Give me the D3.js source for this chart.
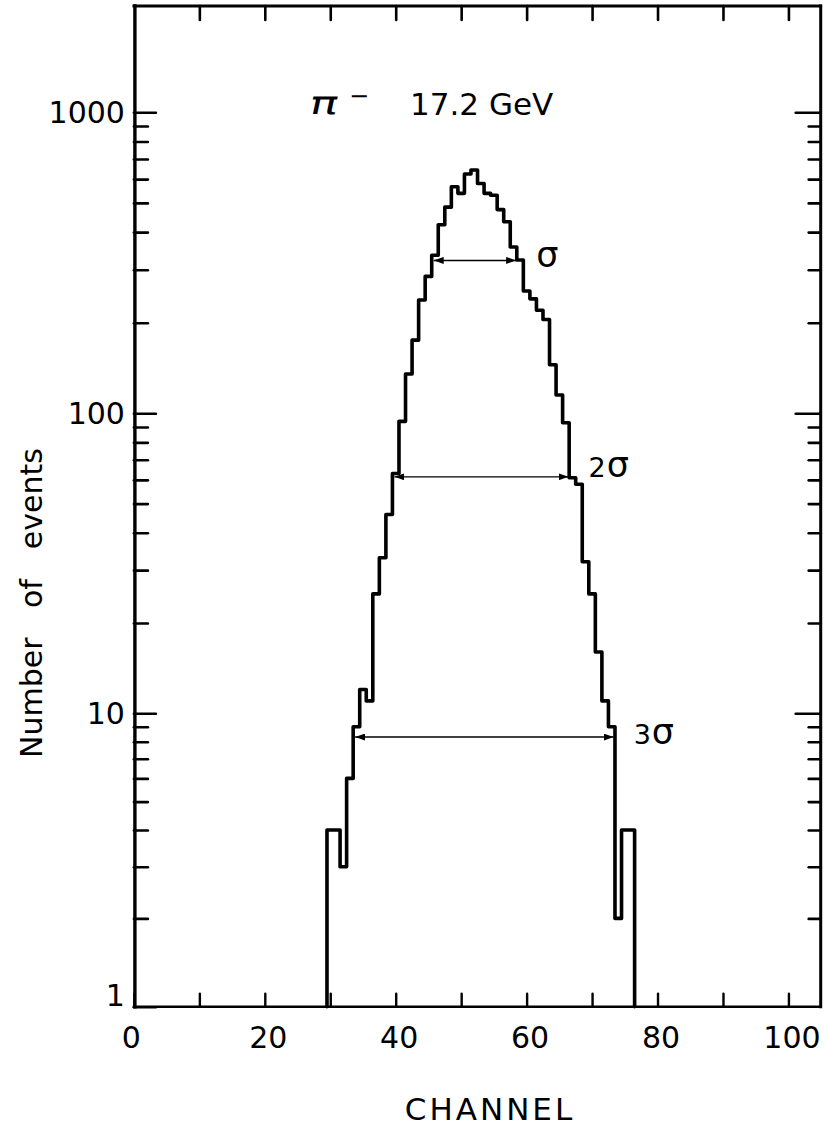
<!DOCTYPE html>
<html>
<head>
<meta charset="utf-8">
<script src="https://cdn.jsdelivr.net/npm/d3@7"></script>
<style>
  html, body { margin: 0; padding: 0; background: #fff; }
  svg { display: block; }
  text { font-family: "DejaVu Sans", sans-serif; fill: #000; }
</style>
</head>
<body>
<svg id="chart" width="825" height="1129"></svg>
<script>
// Pulse-height spectrum, one bin per channel (bin centred on the channel number)
const channels = [30, 31, 32, 33, 34, 35, 36, 37, 38, 39, 40, 41, 42, 43, 44, 45, 46,
  47, 48, 49, 50, 51, 52, 53, 54, 55, 56, 57, 58, 59, 60, 61, 62, 63, 64, 65, 66, 67,
  68, 69, 70, 71, 72, 73, 74, 75, 76];
const counts = [4, 4, 3, 6, 9, 12, 11, 25, 33, 46, 63, 94, 135, 175, 238, 285, 335,
  423, 484, 566, 538, 624, 643, 580, 538, 530, 475, 433, 357, 323, 255, 240, 220, 205,
  145, 115, 93, 61, 58, 32, 25, 16, 11, 9, 2, 4, 4];

// Width markers drawn across the peak (level in events, span in channels)
const markerLabels = ["", "2", "3"];
const markerLevels = [322, 61.4, 8.3];
const markerFrom = [45.8, 39.8, 33.8];
const markerTo = [58.4, 66.4, 73.3];

// Axis ticks
const xTicks = [0, 10, 20, 30, 40, 50, 60, 70, 80, 90, 100];
const xTickLabels = [0, 20, 40, 60, 80, 100];
const yMajor = [1, 10, 100, 1000];
const yMinor = [2, 3, 4, 5, 6, 7, 8, 9, 20, 30, 40, 50, 60, 70, 80, 90,
  200, 300, 400, 500, 600, 700, 800, 900];
const yMax = 2255;
const xMax = 104.93;

const svg = d3.select("#chart");

const x = d3.scaleLinear().domain([0, xMax]).range([133.9, 820.7]);
// log paper decades are not perfectly equal, so the scale is piecewise per decade
const y = d3.scaleLog().domain([1, 10, 100, 1000, yMax]).range([1006.7, 713.3, 413.3, 112.3, 6]);

const plotLeft = x(0), plotRight = x(xMax), plotTop = y(yMax), plotBottom = y(1);

// --- ticks -------------------------------------------------------------
function styleTicks(g, w) {
  g.select(".domain").remove();
  g.selectAll(".tick line").attr("stroke", "#000").attr("stroke-width", w).attr("stroke-linecap", "round");
}

svg.append("g").attr("transform", `translate(0,${plotBottom})`)
  .call(d3.axisBottom(x).tickValues(xTicks).tickSize(-13).tickPadding(20)
    .tickFormat(d => xTickLabels.includes(d) ? d : ""))
  .call(g => styleTicks(g, 2.4))
  .call(g => g.selectAll("text").attr("font-size", 30).attr("dx", d => d === 0 ? -3 : 3));

svg.append("g").attr("transform", `translate(0,${plotTop})`)
  .call(d3.axisTop(x).tickValues(xTicks.filter(d => d > 0)).tickSize(-14).tickFormat(""))
  .call(g => styleTicks(g, 2.6));

svg.append("g").attr("transform", `translate(${plotLeft},0)`)
  .call(d3.axisLeft(y).tickValues(yMajor).tickSize(-22).tickPadding(9).tickFormat(d3.format("d")))
  .call(g => styleTicks(g, 2.6))
  .call(g => g.selectAll("text").attr("font-size", 30)
    .attr("dy", d => d === 1 ? "-0.05em" : "0.34em"));

svg.append("g").attr("transform", `translate(${plotLeft},0)`)
  .call(d3.axisLeft(y).tickValues(yMinor).tickSize(-14).tickFormat(""))
  .call(g => styleTicks(g, 2.6));

svg.append("g").attr("transform", `translate(${plotRight},0)`)
  .call(d3.axisRight(y).tickValues(yMajor.filter(d => d > 1)).tickSize(-25).tickFormat(""))
  .call(g => styleTicks(g, 2.6));

svg.append("g").attr("transform", `translate(${plotRight},0)`)
  .call(d3.axisRight(y).tickValues(yMinor).tickSize(-12).tickFormat(""))
  .call(g => styleTicks(g, 2.6));

// --- frame -------------------------------------------------------------
const frame = svg.append("g").attr("stroke", "#000").attr("stroke-linecap", "square");
frame.append("line").attr("x1", plotLeft + 1).attr("x2", plotLeft + 1).attr("y1", plotTop).attr("y2", plotBottom).attr("stroke-width", 3.4);
frame.append("line").attr("x1", plotRight).attr("x2", plotRight).attr("y1", plotTop).attr("y2", plotBottom).attr("stroke-width", 3);
frame.append("line").attr("x1", plotLeft).attr("x2", plotRight).attr("y1", plotTop).attr("y2", plotTop).attr("stroke-width", 2.8);
frame.append("line").attr("x1", plotLeft).attr("x2", plotRight).attr("y1", plotBottom).attr("y2", plotBottom).attr("stroke-width", 2.4);

// --- histogram outline -------------------------------------------------
const half = 0.5;
const steps = [{c: channels[0] - half, v: 1}]
  .concat(channels.map((c, i) => ({c: c - half, v: counts[i]})))
  .concat([{c: channels[channels.length - 1] + half, v: counts[counts.length - 1]},
           {c: channels[channels.length - 1] + half, v: 1}]);

svg.append("path")
  .datum(steps)
  .attr("fill", "none")
  .attr("stroke", "#000")
  .attr("stroke-width", 3.6)
  .attr("stroke-linejoin", "round")
  .attr("stroke-linecap", "round")
  .attr("d", d3.line().x(d => x(d.c)).y(d => y(d.v)).curve(d3.curveStepAfter));

// --- width markers -----------------------------------------------------
svg.append("defs").append("marker")
  .attr("id", "head")
  .attr("viewBox", "0 0 10 7")
  .attr("refX", 10).attr("refY", 3.5)
  .attr("markerWidth", 10).attr("markerHeight", 7)
  .attr("markerUnits", "userSpaceOnUse")
  .attr("orient", "auto-start-reverse")
  .append("path").attr("d", "M0,0 L10,3.5 L0,7 Z").attr("fill", "#000");

const markers = svg.append("g");
markerLevels.forEach((lv, i) => {
  markers.append("line")
    .attr("x1", x(markerFrom[i])).attr("x2", x(markerTo[i]))
    .attr("y1", y(lv)).attr("y2", y(lv))
    .attr("stroke", "#000").attr("stroke-width", 1.4)
    .attr("marker-start", "url(#head)").attr("marker-end", "url(#head)");
  const t = markers.append("text")
    .attr("x", x(markerTo[i]) + 20)
    .attr("y", y(lv) + (i === 0 ? 7 : i === 1 ? 0 : 7));
  if (markerLabels[i]) t.append("tspan").attr("font-size", 27).text(markerLabels[i]);
  t.append("tspan").attr("font-size", 35).attr("dx", markerLabels[i] ? 1 : 0).text("σ");
});

// --- title -------------------------------------------------------------
svg.append("text").attr("transform", "translate(308,114) skewX(-12) scale(1.45,1)")
  .attr("font-size", 32).text("π");
svg.append("text").attr("x", 349).attr("y", 104).attr("font-size", 24).text("−");
svg.append("text").attr("x", 410).attr("y", 115).attr("font-size", 31).text("17.2 GeV");

// --- axis titles -------------------------------------------------------
svg.append("text")
  .attr("x", 490).attr("y", 1120)
  .attr("text-anchor", "middle")
  .attr("font-size", 31).attr("letter-spacing", 3)
  .text("CHANNEL");

const yl = svg.append("text")
  .attr("transform", "translate(42,603) rotate(-90)")
  .attr("text-anchor", "middle")
  .attr("font-size", 30);
yl.append("tspan").text("Number");
yl.append("tspan").attr("dx", 30).text("of");
yl.append("tspan").attr("dx", 30).text("events");
</script>
</body>
</html>
